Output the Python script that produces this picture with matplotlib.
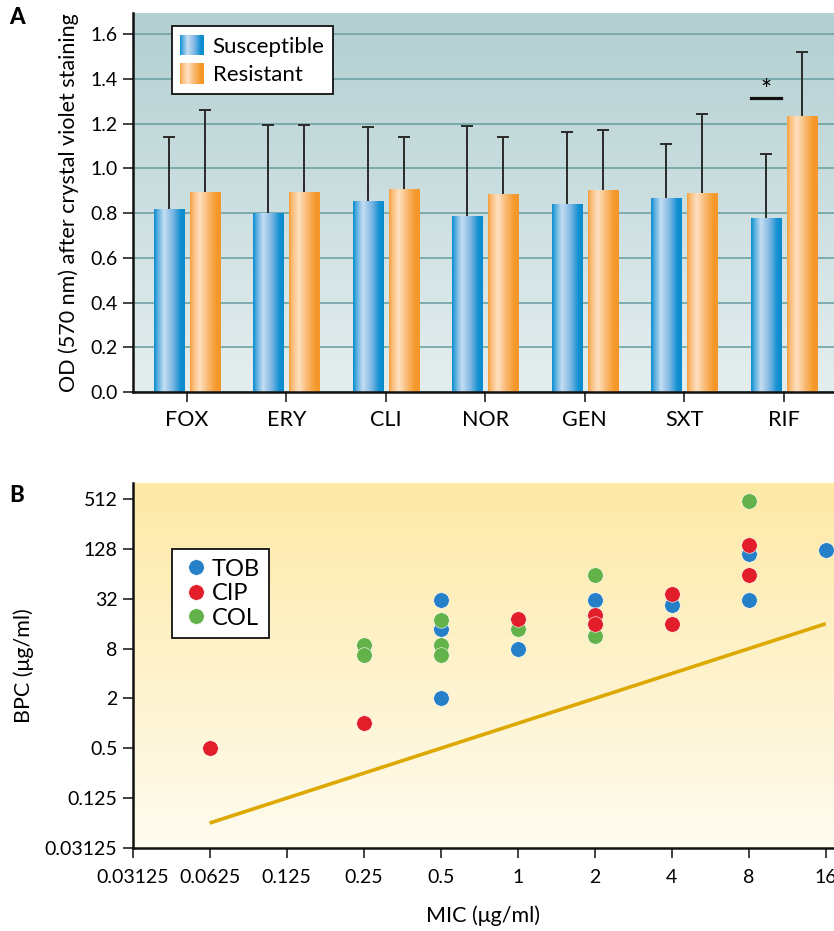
import matplotlib
matplotlib.use("Agg")
import matplotlib.pyplot as plt
import numpy as np
from matplotlib.colors import LinearSegmentedColormap
from matplotlib.patches import Rectangle
from matplotlib.legend_handler import HandlerBase

plt.rcParams['font.family'] = ['Lato', 'DejaVu Sans']

# --- Panel A data: biofilm OD, mean and SD ---
drugs = ["FOX", "ERY", "CLI", "NOR", "GEN", "SXT", "RIF"]
susc_mean = [0.817, 0.800, 0.852, 0.787, 0.840, 0.867, 0.778]
susc_sd = [0.324, 0.395, 0.331, 0.403, 0.323, 0.241, 0.286]
res_mean = [0.895, 0.895, 0.906, 0.883, 0.903, 0.889, 1.234]
res_sd = [0.367, 0.300, 0.234, 0.258, 0.269, 0.355, 0.284]
od_ticks = [0.0, 0.2, 0.4, 0.6, 0.8, 1.0, 1.2, 1.4, 1.6]

# --- Panel B data: MIC vs BPC ---
tob_mic = [0.5, 0.5, 0.5, 1, 2, 4, 8, 8, 16]
tob_bpc = [31, 13.8, 2, 8, 31, 27, 112, 31, 123]
cip_mic = [0.0625, 0.25, 1, 2, 2, 4, 4, 8, 8]
cip_bpc = [0.5, 1.0, 18.5, 20.5, 16, 36.5, 15.7, 143, 62]
col_mic = [0.25, 0.25, 0.5, 0.5, 0.5, 1, 2, 2, 8]
col_bpc = [8.9, 6.7, 17.7, 8.9, 6.7, 14, 62, 11.4, 488]
line_mic = [0.0625, 16]
line_bpc = [0.0625, 16]
mic_ticks = [0.03125, 0.0625, 0.125, 0.25, 0.5, 1, 2, 4, 8, 16]
mic_labels = ["0.03125", "0.0625", "0.125", "0.25", "0.5", "1", "2", "4", "8", "16"]
bpc_ticks = [0.03125, 0.125, 0.5, 2, 8, 32, 128, 512]
bpc_labels = ["0.03125", "0.125", "0.5", "2", "8", "32", "128", "512"]

blue_cmap = LinearSegmentedColormap.from_list("blue", [
    (0.0, "#0a8fd0"), (0.12, "#5cafe0"), (0.32, "#c4ddf2"),
    (0.6, "#80b8e4"), (0.85, "#1591d3"), (1.0, "#0a8acb")])
orange_cmap = LinearSegmentedColormap.from_list("orange", [
    (0.0, "#f6a13f"), (0.12, "#fbc183"), (0.32, "#fee0c2"),
    (0.6, "#f9b86f"), (0.85, "#f69a2c"), (1.0, "#f5962a")])
bgA_cmap = LinearSegmentedColormap.from_list("bgA", ["#e5eeef", "#b3cfd1"])
bgB_cmap = LinearSegmentedColormap.from_list("bgB", ["#fffcf0", "#fde9a6"])


class GradientHandler(HandlerBase):
    def __init__(self, cmap):
        super().__init__()
        self.cmap = cmap

    def create_artists(self, legend, orig_handle, xdescent, ydescent,
                       width, height, fontsize, trans):
        n = 24
        arts = []
        for i in range(n):
            r = Rectangle((-xdescent + i * width / n, -ydescent), width / n * 1.05, height,
                          facecolor=self.cmap((i + 0.5) / n), linewidth=0,
                          antialiased=False, transform=trans)
            arts.append(r)
        return arts


def add_background(ax, cmap):
    grad = np.linspace(0, 1, 256).reshape(-1, 1)
    ax.imshow(grad, cmap=cmap, origin="lower", extent=[0, 1, 0, 1],
              transform=ax.transAxes, aspect="auto", zorder=0)


def style_axes(ax):
    for s in ["top", "right"]:
        ax.spines[s].set_visible(False)
    for s in ["left", "bottom"]:
        ax.spines[s].set_linewidth(1.8)
        ax.spines[s].set_color("#111111")
    ax.tick_params(length=7, width=1.2, color="#222222", labelsize=14, pad=4)


fig = plt.figure(figsize=(8.34, 9.31), dpi=100)

# ---------------- Panel A ----------------
axA = fig.add_axes([0.1595, 0.5789, 0.8405, 0.4071])
add_background(axA, bgA_cmap)
x = np.arange(len(drugs))
w = 0.305
off = 0.181
bars_s = axA.bar(x - off, susc_mean, w, color="#1591d3", linewidth=0, zorder=1)
bars_r = axA.bar(x + off, res_mean, w, color="#f69a2c", linewidth=0, zorder=1)

hgrad = np.linspace(0, 1, 64).reshape(1, -1)
for bars, cmap in [(bars_s, blue_cmap), (bars_r, orange_cmap)]:
    for p in bars:
        x0, y0 = p.get_xy()
        im = axA.imshow(hgrad, cmap=cmap, extent=[x0, x0 + p.get_width(), y0, y0 + p.get_height()],
                        aspect="auto", zorder=1.1)
        im.set_clip_path(p)

cap = 0.06
for xs, m, sd in [(x - off, susc_mean, susc_sd), (x + off, res_mean, res_sd)]:
    tops = np.array(m) + np.array(sd)
    axA.vlines(xs, m, tops, color="#2a2a2a", linewidth=1.4, zorder=2)
    axA.hlines(tops, xs - cap, xs + cap, color="#2a2a2a", linewidth=1.4, zorder=2)

# significance mark for RIF
axA.plot([6 - off - 0.153, 6 - off + 0.153], [1.314, 1.314], color="#111111", lw=2.3, zorder=2)
axA.text(6 - off, 1.309, "*", ha="center", va="baseline", fontsize=19, zorder=2)

axA.set_axisbelow(True)
axA.yaxis.grid(True, color="#6fa2a4", linewidth=1.2)
axA.set_xlim(-0.54, 6.505)
axA.set_ylim(0, 1.694)
axA.set_yticks(od_ticks)
axA.set_yticklabels([f"{v:.1f}" for v in od_ticks])
axA.set_xticks(x)
axA.set_xticklabels(drugs)
style_axes(axA)
axA.tick_params(axis="x", labelsize=15.5, pad=6)
axA.set_ylabel("OD (570 nm) after crystal violet staining", fontsize=15.5, labelpad=8)

legA = axA.legend([bars_s, bars_r], ["Susceptible", "Resistant"],
                  handler_map={bars_s: GradientHandler(blue_cmap), bars_r: GradientHandler(orange_cmap)},
                  loc="upper left", bbox_to_anchor=(0.055, 0.966), borderaxespad=0,
                  fontsize=16, fancybox=False, framealpha=1, edgecolor="#111111",
                  handlelength=1.05, handleheight=1.05, handletextpad=0.4,
                  labelspacing=0.3, borderpad=0.4)
legA.get_frame().set_linewidth(1.3)

# ---------------- Panel B ----------------
axB = fig.add_axes([0.1591, 0.0892, 0.8409, 0.392])
add_background(axB, bgB_cmap)
axB.set_xscale("log", base=2)
axB.set_yscale("log", base=2)
axB.plot(line_mic, line_bpc, color="#dda800", lw=2.6, solid_capstyle="butt", zorder=2)
ms = 125
axB.scatter(tob_mic, tob_bpc, s=ms, color="#2680c8", edgecolor="white", linewidth=0.4, zorder=3, label="TOB")
axB.scatter(cip_mic, cip_bpc, s=ms, color="#e31e2b", edgecolor="white", linewidth=0.4, zorder=5, label="CIP")
axB.scatter(col_mic, col_bpc, s=ms, color="#63b34a", edgecolor="white", linewidth=0.4, zorder=4, label="COL")

axB.set_xlim(0.03125, 2 ** 4.108)
axB.set_ylim(0.03125, 2 ** 9.65)
axB.set_xticks(mic_ticks)
axB.set_xticklabels(mic_labels)
axB.set_yticks(bpc_ticks)
axB.set_yticklabels(bpc_labels)
axB.minorticks_off()
style_axes(axB)
axB.tick_params(axis="x", pad=8)
axB.set_xlabel("MIC (\u03bcg/ml)", fontsize=15.5, labelpad=14)
axB.set_ylabel("BPC (\u03bcg/ml)", fontsize=15.5, labelpad=8)

legB = axB.legend(loc="upper left", bbox_to_anchor=(0.0556, 0.819), borderaxespad=0,
                  fontsize=17, fancybox=False, framealpha=1, edgecolor="#111111",
                  handletextpad=0.0, labelspacing=0.15, borderpad=0.4,
                  handlelength=1.3, scatteryoffsets=[0.5])
legB.get_frame().set_linewidth(1.3)

# panel letters
fig.text(0.011, 0.981, "A", fontsize=16, fontweight="black", va="center", ha="left")
fig.text(0.011, 0.468, "B", fontsize=16, fontweight="black", va="center", ha="left")

plt.savefig("out.png", dpi=100)
plt.close()
